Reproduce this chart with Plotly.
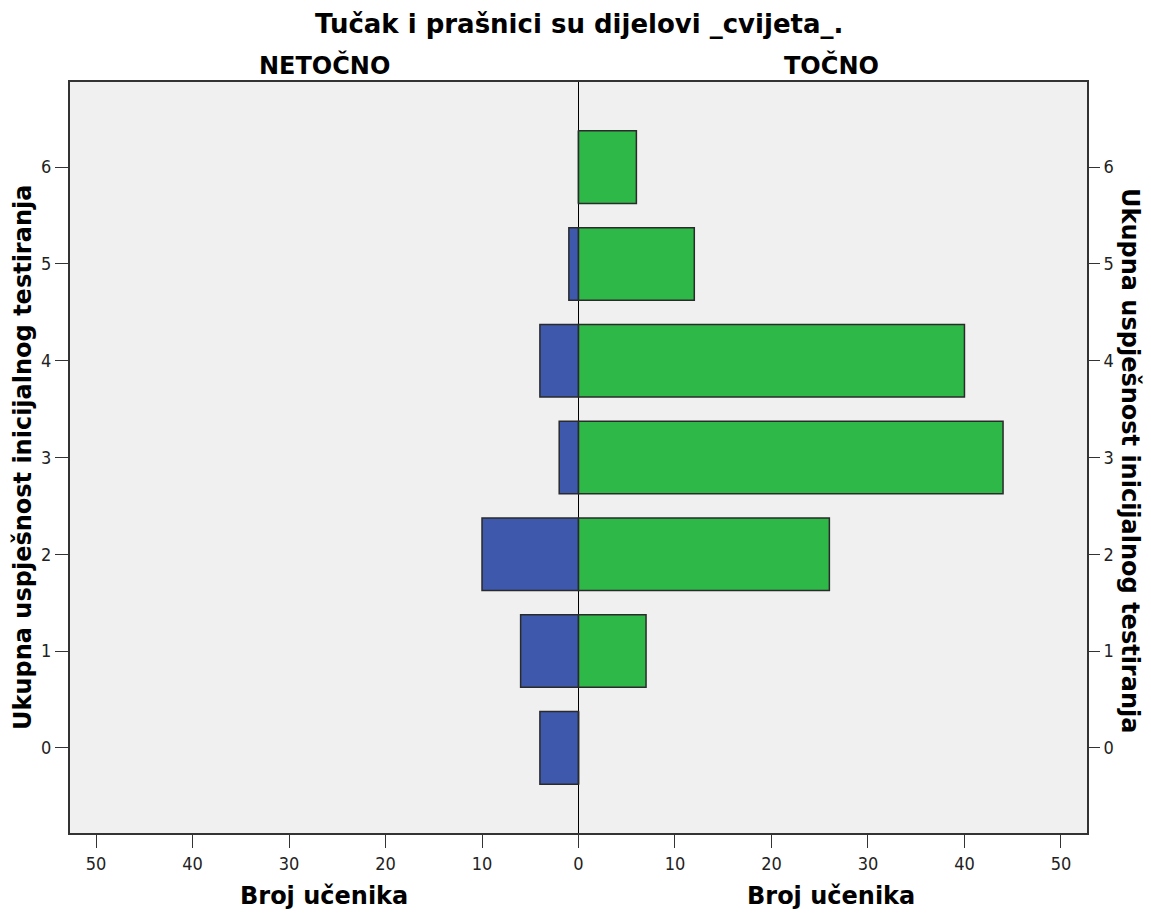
import plotly.graph_objects as go

scores = [0, 1, 2, 3, 4, 5, 6]
netocno = [4, 6, 10, 2, 4, 1, 0]
tocno = [0, 7, 26, 44, 40, 12, 6]
tick_vals = [-50, -40, -30, -20, -10, 0, 10, 20, 30, 40, 50]
tick_text = ["50", "40", "30", "20", "10", "0", "10", "20", "30", "40", "50"]

title = "Tučak i prašnici su dijelovi _cvijeta_."
y_title = "Ukupna uspješnost inicijalnog testiranja"
x_title = "Broj učenika"

BOLD = "DejaVu Sans"
TICKF = "DejaVu Sans Condensed"
OFF = 8  # page body margin
W, H = 1135, 908
# desired plot area in page pixels: x 70..1087, y 82..833
L = 70 - OFF
T = 82 - OFF
R = W - (1087 - OFF)
B = H - (833 - OFF)

fig = go.Figure()
fig.add_trace(go.Bar(
    y=scores, x=[-v for v in netocno], orientation="h", width=0.75,
    marker=dict(color="#3E58AC", line=dict(color="#2a2a2a", width=1.5)),
    name="NETOČNO", showlegend=False))
fig.add_trace(go.Bar(
    y=scores, x=tocno, orientation="h", width=0.75,
    marker=dict(color="#2EB848", line=dict(color="#2a2a2a", width=1.5)),
    name="TOČNO", showlegend=False))
fig.add_trace(go.Scatter(x=[0], y=[0], yaxis="y2", mode="markers",
                         marker=dict(opacity=0), showlegend=False, hoverinfo="skip"))

yr = [-0.88, 6.88]
tickfont = dict(family=TICKF, size=18, color="#222")
fig.update_layout(
    width=W, height=H,
    margin=dict(l=L, r=R, t=T, b=B),
    paper_bgcolor="white", plot_bgcolor="#F0F0F0",
    barmode="overlay",
    font=dict(family=TICKF, size=18, color="#222"),
    xaxis=dict(range=[-52.7, 52.7], tickvals=tick_vals, ticktext=tick_text,
               ticks="outside", ticklen=13, tickcolor="#333", tickwidth=1.2,
               showgrid=False, zeroline=True, zerolinecolor="black", zerolinewidth=1.3,
               showline=True, linecolor="#333", linewidth=2, mirror=True,
               tickfont=tickfont),
    yaxis=dict(range=yr, tickvals=scores, ticks="outside", ticklen=13,
               tickcolor="#333", tickwidth=1.2, showgrid=False, zeroline=False,
               showline=True, linecolor="#333", linewidth=2, mirror=True,
               tickfont=tickfont),
    yaxis2=dict(range=yr, tickvals=scores, ticks="outside", ticklen=12,
                tickcolor="#333", tickwidth=1.2, overlaying="y", side="right",
                showgrid=False, zeroline=False, showline=False,
                tickfont=tickfont),
)

annots = [
    dict(text=title, xp=579, yp=24, angle=0, size=26),
    dict(text="NETOČNO", xp=324, yp=65, angle=0, size=24),
    dict(text="TOČNO", xp=831, yp=65, angle=0, size=24),
    dict(text=x_title, xp=324, yp=896, angle=0, size=24),
    dict(text=x_title, xp=831, yp=896, angle=0, size=24),
    dict(text=y_title, xp=23, yp=458, angle=-90, size=24),
    dict(text=y_title, xp=1130, yp=460, angle=90, size=24),
]
pw, ph = W - L - R, H - T - B
for a in annots:
    fx = a["xp"] - OFF
    fy = a["yp"] - OFF
    fig.add_annotation(text="<b>" + a["text"] + "</b>",
                       x=(fx - L) / pw, y=1 - (fy - T) / ph,
                       xref="paper", yref="paper", showarrow=False, textangle=a["angle"],
                       xanchor="center", yanchor="middle",
                       font=dict(family=BOLD, size=a["size"], color="black"))

fig.write_html("out.html")
